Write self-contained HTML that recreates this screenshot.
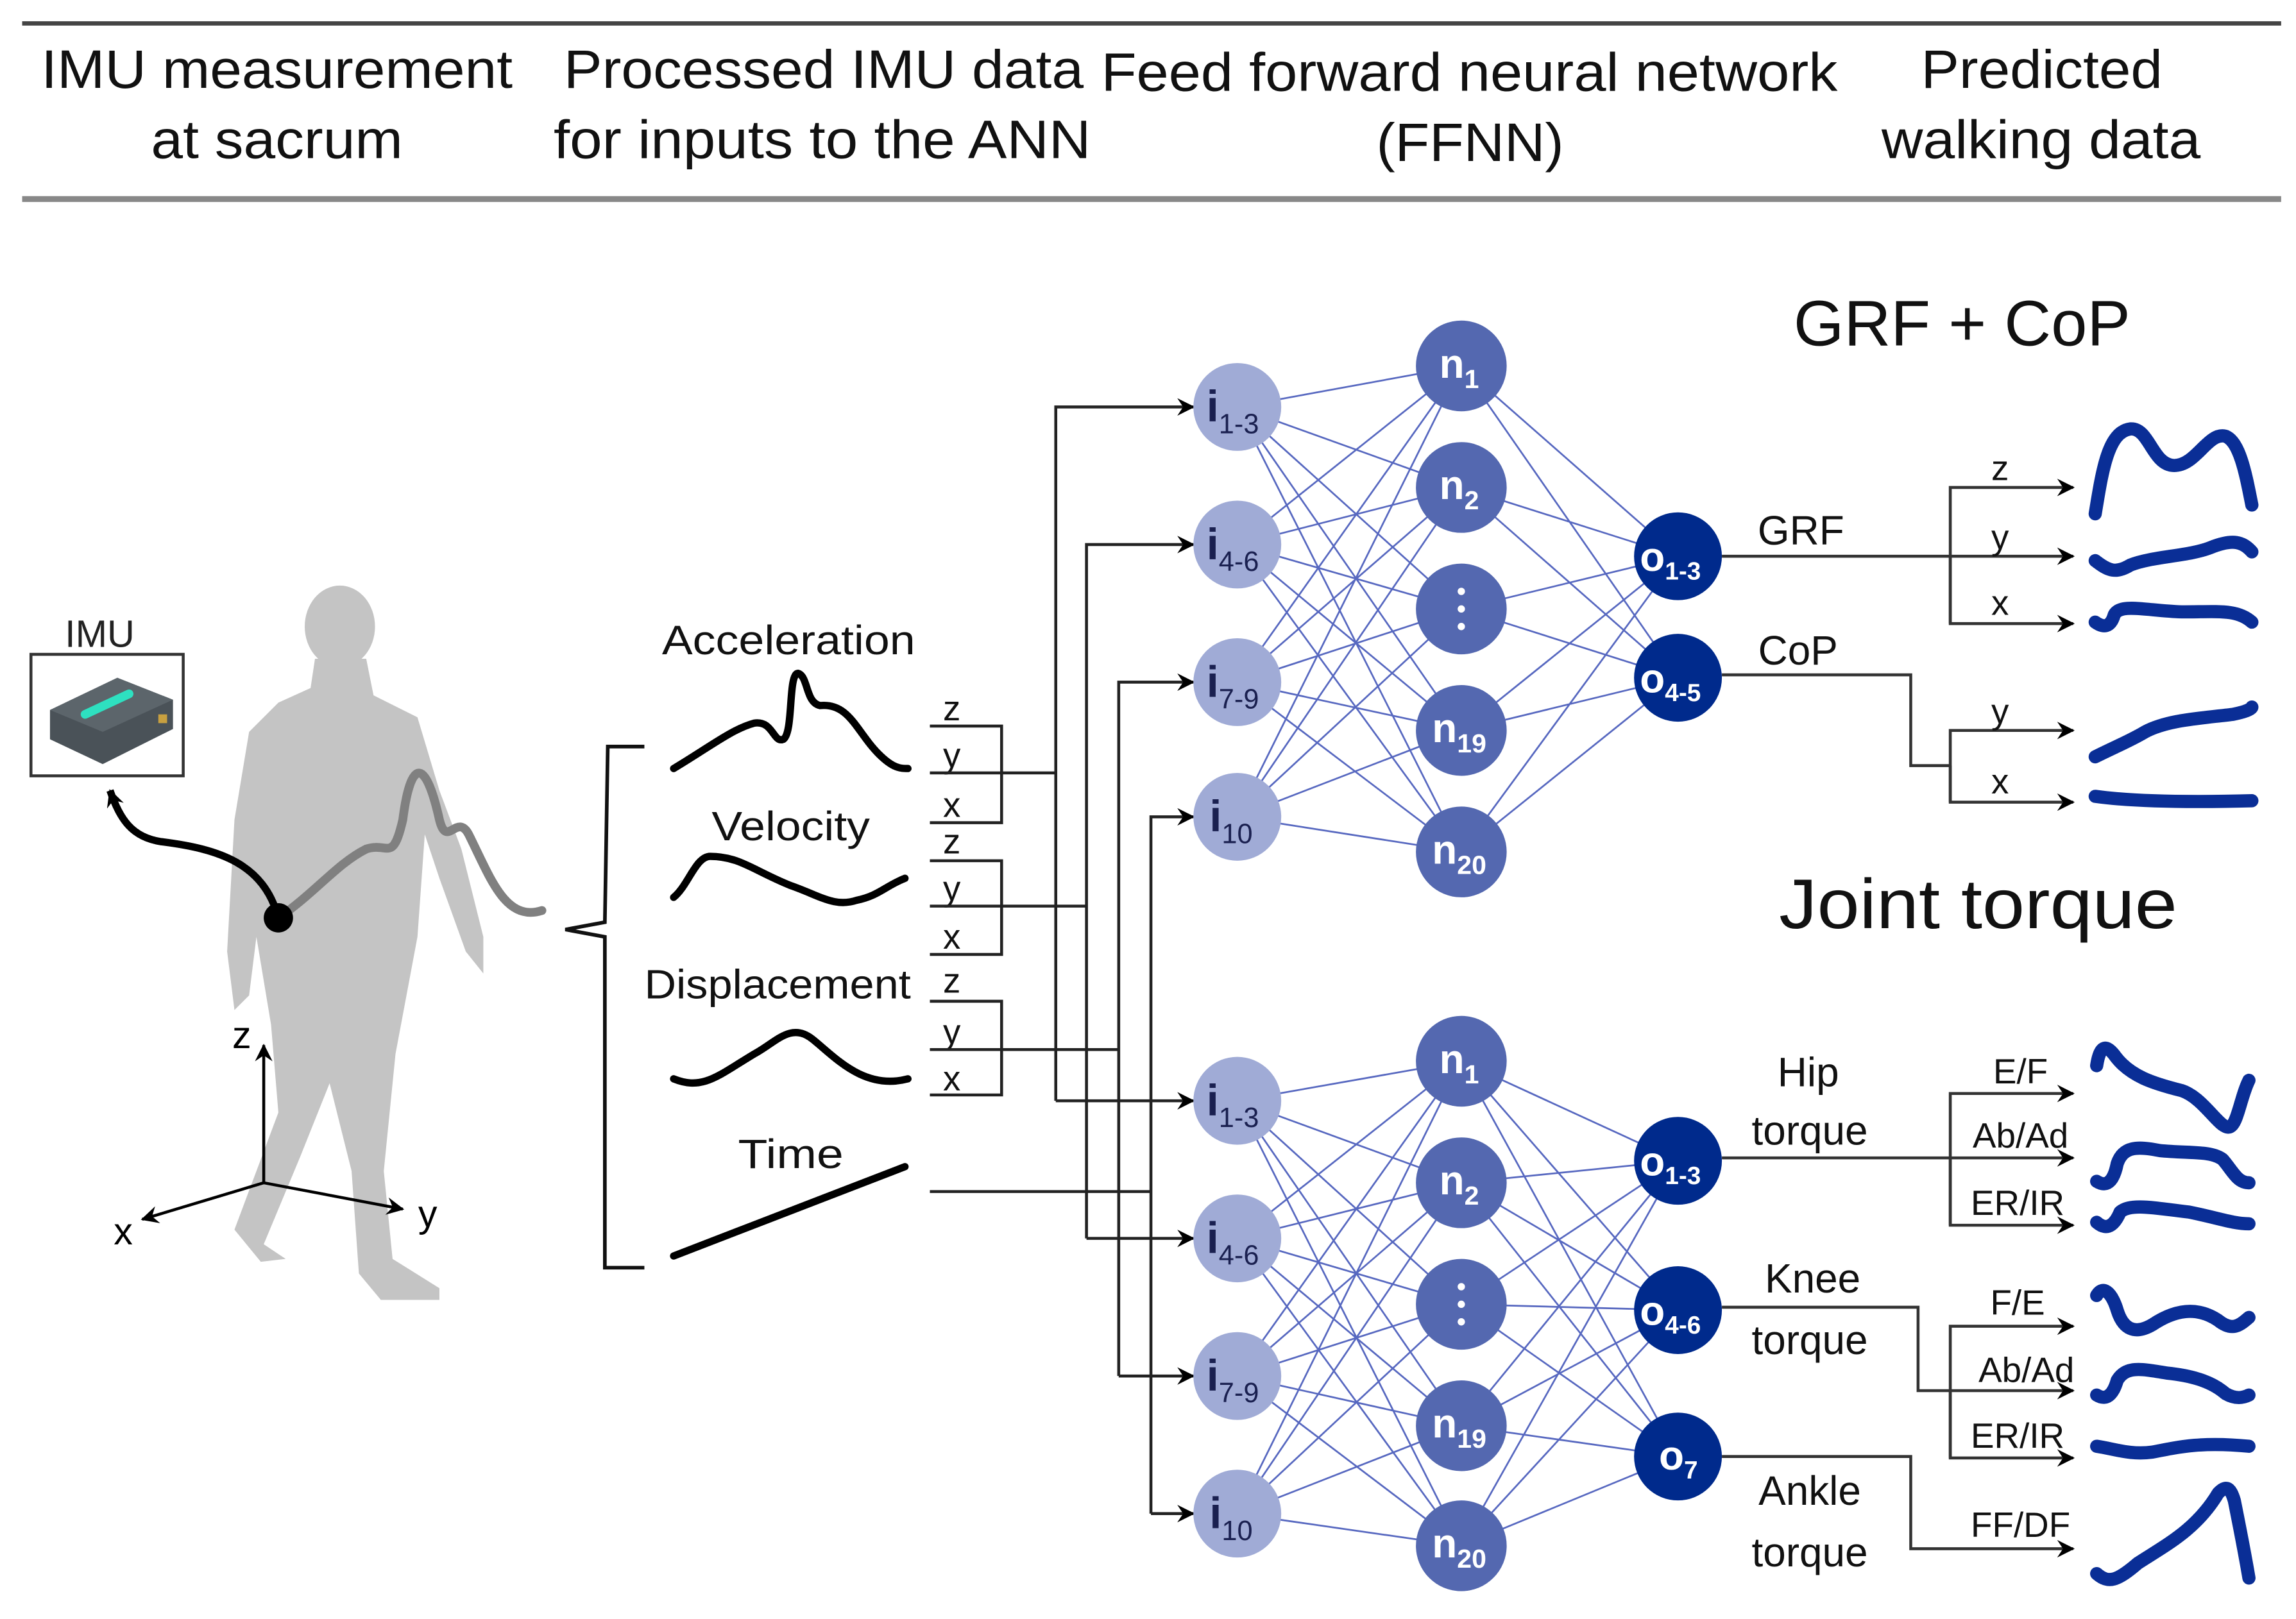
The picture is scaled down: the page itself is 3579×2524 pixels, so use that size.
<!DOCTYPE html>
<html><head><meta charset="utf-8"><style>
html,body{margin:0;padding:0;background:#fff}
svg{display:block}
text{font-family:"Liberation Sans",sans-serif}
</style></head><body>
<svg width="3579" height="2524" viewBox="0 0 1568 1106" xmlns="http://www.w3.org/2000/svg">
<defs>
<marker id="ah" viewBox="0 0 12 12" refX="11" refY="6" markerWidth="12" markerHeight="12" markerUnits="userSpaceOnUse" orient="auto">
<path d="M0,0 L12,6 L0,12 L4,6 Z" fill="#000"/></marker>
</defs>
<!-- header -->
<line x1="15" y1="16" x2="1558" y2="16" stroke="#444" stroke-width="3"/>
<line x1="15" y1="136" x2="1558" y2="136" stroke="#888" stroke-width="4"/>
<g font-size="37" fill="#111" lengthAdjust="spacingAndGlyphs">
<text x="28" y="60" textLength="322" lengthAdjust="spacingAndGlyphs">IMU measurement</text>
<text x="103" y="108" textLength="172" lengthAdjust="spacingAndGlyphs">at sacrum</text>
<text x="385" y="60" textLength="355" lengthAdjust="spacingAndGlyphs">Processed IMU data</text>
<text x="378" y="108" textLength="367" lengthAdjust="spacingAndGlyphs">for inputs to the ANN</text>
<text x="752" y="62" textLength="503" lengthAdjust="spacingAndGlyphs">Feed forward neural network</text>
<text x="940" y="110" textLength="128" lengthAdjust="spacingAndGlyphs">(FFNN)</text>
<text x="1312" y="60" textLength="165" lengthAdjust="spacingAndGlyphs">Predicted</text>
<text x="1285" y="108" textLength="218" lengthAdjust="spacingAndGlyphs">walking data</text>
</g>

<!-- person silhouette -->
<g fill="#c4c4c4">
<ellipse cx="232" cy="428" rx="24" ry="28"/>
<path d="M215,450 L250,450 L255,475 L285,490 L300,540 L315,580 L330,640 L330,665 L318,650 L300,600 L290,570 L285,640 L270,720 L262,800 L268,860 L300,880 L300,888 L260,888 L245,870 L240,800 L225,740 L205,790 L180,850 L195,860 L178,862 L160,840 L190,760 L185,700 L175,640 L170,680 L160,690 L155,650 L160,560 L170,500 L190,480 L212,470 Z"/>
</g>
<path d="M190,627 C215,610 230,590 250,580 C265,575 268,590 275,560 C280,520 290,515 300,560 C305,580 312,555 320,570 C335,600 345,630 370,622" fill="none" stroke="#808080" stroke-width="6" stroke-linecap="round"/>
<path d="M190,627 C180,590 150,580 110,575 C90,572 82,560 75,540" fill="none" stroke="#000" stroke-width="5" marker-end="url(#ah)"/>
<circle cx="190" cy="627" r="10" fill="#000"/>
<!-- IMU box -->
<text x="68" y="442" font-size="26" text-anchor="middle" fill="#222">IMU</text>
<rect x="21" y="447" width="104" height="83" fill="#fff" stroke="#333" stroke-width="2"/>
<path d="M34,485 L80,463 L118,478 L118,498 L70,522 L34,505 Z" fill="#4a5258"/>
<path d="M34,485 L80,463 L118,478 L70,500 Z" fill="#5c656b"/>
<path d="M58,488 L88,474" stroke="#2ee0c0" stroke-width="6" stroke-linecap="round"/>
<rect x="108" y="488" width="6" height="6" fill="#c8a040"/>
<!-- axes -->
<line x1="180" y1="808" x2="180" y2="714" stroke="#000" stroke-width="2" marker-end="url(#ah)"/>
<line x1="180" y1="808" x2="97" y2="833" stroke="#000" stroke-width="2" marker-end="url(#ah)"/>
<line x1="180" y1="808" x2="275" y2="826" stroke="#000" stroke-width="2" marker-end="url(#ah)"/>
<text x="165" y="716" font-size="26" text-anchor="middle">z</text>
<text x="84" y="850" font-size="26" text-anchor="middle">x</text>
<text x="292" y="838" font-size="26" text-anchor="middle">y</text>

<!-- curly bracket -->
<path d="M440,510 L415,510 L413,630 L386,635 L413,640 L413,866 L440,866" fill="none" stroke="#111" stroke-width="2.5"/>
<!-- signals -->
<g font-size="28" fill="#111">
<text x="452" y="447" textLength="173" lengthAdjust="spacingAndGlyphs">Acceleration</text>
<text x="486" y="574" textLength="108" lengthAdjust="spacingAndGlyphs">Velocity</text>
<text x="440" y="682" textLength="182" lengthAdjust="spacingAndGlyphs">Displacement</text>
<text x="504" y="798" textLength="72" lengthAdjust="spacingAndGlyphs">Time</text>
</g>
<g fill="none" stroke="#000" stroke-width="5" stroke-linecap="round">
<path d="M460,525 C485,510 500,498 515,494 C528,492 528,508 535,505 C542,500 538,460 545,460 C552,462 550,480 560,482 C580,480 585,500 600,515 C610,525 615,525 620,525"/>
<path d="M460,613 C470,605 475,585 485,585 C505,585 515,595 540,605 C560,612 570,620 585,615 C600,612 605,605 618,600"/>
<path d="M460,737 C480,745 490,735 515,720 C530,712 540,698 555,710 C570,722 590,745 620,737"/>
<path d="M460,858 L618,797"/>
</g>
<!-- xyz groups -->
<g font-size="24" text-anchor="middle" fill="#111">
<text x="650" y="492">z</text><text x="650" y="524">y</text><text x="650" y="558">x</text>
<text x="650" y="583">z</text><text x="650" y="615">y</text><text x="650" y="648">x</text>
<text x="650" y="678">z</text><text x="650" y="713">y</text><text x="650" y="745">x</text>
</g>
<g fill="none" stroke="#222" stroke-width="2">
<path d="M635,496 L684,496 L684,562 L635,562 M635,528 L721,528"/>
<path d="M635,588 L684,588 L684,652 L635,652 M635,619 L742,619"/>
<path d="M635,684 L684,684 L684,748 L635,748 M635,717 L764,717"/>
<path d="M635,814 L786,814"/>
<path d="M721,752 L721,278 L815,278" marker-end="url(#ah)"/>
<path d="M721,752 L815,752" marker-end="url(#ah)"/>
<path d="M742,846 L742,372 L815,372" marker-end="url(#ah)"/>
<path d="M742,846 L815,846" marker-end="url(#ah)"/>
<path d="M764,940 L764,466 L815,466" marker-end="url(#ah)"/>
<path d="M764,940 L815,940" marker-end="url(#ah)"/>
<path d="M786,1034 L786,558 L815,558" marker-end="url(#ah)"/>
<path d="M786,1034 L815,1034" marker-end="url(#ah)"/>
</g>

<!-- network connections -->
<g stroke="#3a4db5" stroke-width="1.2" fill="none" opacity="0.85">
<path d="M845,278L998,250M845,278L998,333M845,278L998,416M845,278L998,499M845,278L998,582
M845,372L998,250M845,372L998,333M845,372L998,416M845,372L998,499M845,372L998,582
M845,466L998,250M845,466L998,333M845,466L998,416M845,466L998,499M845,466L998,582
M845,558L998,250M845,558L998,333M845,558L998,416M845,558L998,499M845,558L998,582
M998,250L1146,380M998,333L1146,380M998,416L1146,380M998,499L1146,380M998,582L1146,380
M998,250L1146,463M998,333L1146,463M998,416L1146,463M998,499L1146,463M998,582L1146,463
M845,752L998,725M845,752L998,808M845,752L998,891M845,752L998,974M845,752L998,1056
M845,846L998,725M845,846L998,808M845,846L998,891M845,846L998,974M845,846L998,1056
M845,940L998,725M845,940L998,808M845,940L998,891M845,940L998,974M845,940L998,1056
M845,1034L998,725M845,1034L998,808M845,1034L998,891M845,1034L998,974M845,1034L998,1056
M998,725L1146,793M998,808L1146,793M998,891L1146,793M998,974L1146,793M998,1056L1146,793
M998,725L1146,895M998,808L1146,895M998,891L1146,895M998,974L1146,895M998,1056L1146,895
M998,725L1146,995M998,808L1146,995M998,891L1146,995M998,974L1146,995M998,1056L1146,995"/>
</g>
<!-- nodes -->
<g fill="#a0abd6">
<circle cx="845" cy="278" r="30"/><circle cx="845" cy="372" r="30"/><circle cx="845" cy="466" r="30"/><circle cx="845" cy="558" r="30"/>
<circle cx="845" cy="752" r="30"/><circle cx="845" cy="846" r="30"/><circle cx="845" cy="940" r="30"/><circle cx="845" cy="1034" r="30"/>
</g>
<g fill="#5468b0">
<circle cx="998" cy="250" r="31"/><circle cx="998" cy="333" r="31"/><circle cx="998" cy="416" r="31"/><circle cx="998" cy="499" r="31"/><circle cx="998" cy="582" r="31"/>
<circle cx="998" cy="725" r="31"/><circle cx="998" cy="808" r="31"/><circle cx="998" cy="891" r="31"/><circle cx="998" cy="974" r="31"/><circle cx="998" cy="1056" r="31"/>
</g>
<g fill="#002a8c">
<circle cx="1146" cy="380" r="30"/><circle cx="1146" cy="463" r="30"/>
<circle cx="1146" cy="793" r="30"/><circle cx="1146" cy="895" r="30"/><circle cx="1146" cy="995" r="30"/>
</g>
<!-- node labels -->
<g font-size="30" font-weight="bold" fill="#1a2050">
<text x="824" y="288">i<tspan font-size="19" font-weight="normal" dy="8">1-3</tspan></text>
<text x="824" y="382">i<tspan font-size="19" font-weight="normal" dy="8">4-6</tspan></text>
<text x="824" y="476">i<tspan font-size="19" font-weight="normal" dy="8">7-9</tspan></text>
<text x="826" y="568">i<tspan font-size="19" font-weight="normal" dy="8">10</tspan></text>
<text x="824" y="762">i<tspan font-size="19" font-weight="normal" dy="8">1-3</tspan></text>
<text x="824" y="856">i<tspan font-size="19" font-weight="normal" dy="8">4-6</tspan></text>
<text x="824" y="950">i<tspan font-size="19" font-weight="normal" dy="8">7-9</tspan></text>
<text x="826" y="1044">i<tspan font-size="19" font-weight="normal" dy="8">10</tspan></text>
</g>
<g font-size="28" font-weight="bold" fill="#fff">
<text x="983" y="258">n<tspan font-size="18" dy="7">1</tspan></text>
<text x="983" y="341">n<tspan font-size="18" dy="7">2</tspan></text>
<text x="978" y="507">n<tspan font-size="18" dy="7">19</tspan></text>
<text x="978" y="590">n<tspan font-size="18" dy="7">20</tspan></text>
<text x="983" y="733">n<tspan font-size="18" dy="7">1</tspan></text>
<text x="983" y="816">n<tspan font-size="18" dy="7">2</tspan></text>
<text x="978" y="982">n<tspan font-size="18" dy="7">19</tspan></text>
<text x="978" y="1064">n<tspan font-size="18" dy="7">20</tspan></text>
<text x="1120" y="390">o<tspan font-size="17" dy="6">1-3</tspan></text>
<text x="1120" y="473">o<tspan font-size="17" dy="6">4-5</tspan></text>
<text x="1120" y="803">o<tspan font-size="17" dy="6">1-3</tspan></text>
<text x="1120" y="905">o<tspan font-size="17" dy="6">4-6</tspan></text>
<text x="1133" y="1004">o<tspan font-size="17" dy="6">7</tspan></text>
</g>
<g fill="#fff"><circle cx="998" cy="404" r="2.5"/><circle cx="998" cy="416" r="2.5"/><circle cx="998" cy="428" r="2.5"/>
<circle cx="998" cy="879" r="2.5"/><circle cx="998" cy="891" r="2.5"/><circle cx="998" cy="903" r="2.5"/></g>

<!-- output routing -->
<g fill="none" stroke="#333" stroke-width="2">
<path d="M1176,380 L1416,380" marker-end="url(#ah)"/>
<path d="M1332,426 L1332,333 L1416,333" marker-end="url(#ah)"/>
<path d="M1332,380 L1332,426 L1416,426" marker-end="url(#ah)"/>
<path d="M1176,461 L1305,461 L1305,523 L1332,523"/>
<path d="M1332,548 L1332,499 L1416,499" marker-end="url(#ah)"/>
<path d="M1332,523 L1332,548 L1416,548" marker-end="url(#ah)"/>
<path d="M1176,791 L1416,791" marker-end="url(#ah)"/>
<path d="M1332,837 L1332,747 L1416,747" marker-end="url(#ah)"/>
<path d="M1332,791 L1332,837 L1416,837" marker-end="url(#ah)"/>
<path d="M1176,893 L1310,893 L1310,950 L1416,950" marker-end="url(#ah)"/>
<path d="M1332,996 L1332,906 L1416,906" marker-end="url(#ah)"/>
<path d="M1332,950 L1332,996 L1416,996" marker-end="url(#ah)"/>
<path d="M1176,995 L1305,995 L1305,1058 L1416,1058" marker-end="url(#ah)"/>
</g>
<g font-size="28" fill="#111" text-anchor="middle">
<text x="1230" y="372">GRF</text>
<text x="1228" y="454">CoP</text>
<text x="1235" y="742">Hip</text>
<text x="1236" y="782">torque</text>
<text x="1238" y="883">Knee</text>
<text x="1236" y="925">torque</text>
<text x="1236" y="1028">Ankle</text>
<text x="1236" y="1070">torque</text>
</g>
<g font-size="24" fill="#111" text-anchor="middle">
<text x="1366" y="328">z</text><text x="1366" y="375">y</text><text x="1366" y="420">x</text>
<text x="1366" y="494">y</text><text x="1366" y="542">x</text>
<text x="1380" y="740">E/F</text><text x="1380" y="784">Ab/Ad</text><text x="1378" y="830">ER/IR</text>
<text x="1378" y="898">F/E</text><text x="1384" y="944">Ab/Ad</text><text x="1378" y="989">ER/IR</text>
<text x="1380" y="1050">FF/DF</text>
</g>
<text x="1225" y="236" font-size="44" fill="#111" textLength="230" lengthAdjust="spacingAndGlyphs">GRF + CoP</text>
<text x="1215" y="634" font-size="48" fill="#111" textLength="272" lengthAdjust="spacingAndGlyphs">Joint torque</text>

<!-- output curves -->
<g fill="none" stroke="#0a2e96" stroke-width="9" stroke-linecap="round" stroke-linejoin="round">
<path d="M1431,351 C1436,320 1440,295 1455,293 C1468,292 1470,318 1485,318 C1500,318 1508,295 1520,298 C1530,302 1534,325 1538,345"/>
<path d="M1431,383 C1440,390 1445,392 1455,386 C1470,380 1495,380 1510,374 C1525,368 1532,370 1538,377"/>
<path d="M1431,425 C1438,430 1442,427 1444,420 C1448,412 1465,417 1490,418 C1515,418 1528,416 1538,425"/>
<path d="M1431,517 C1445,510 1455,506 1465,500 C1480,492 1500,491 1525,488 C1535,486 1538,484 1538,483"/>
<path d="M1431,544 C1460,548 1500,548 1538,547"/>
<path d="M1432,728 C1434,715 1438,712 1445,722 C1455,735 1470,740 1490,745 C1505,750 1515,770 1522,770 C1528,770 1530,750 1536,738"/>
<path d="M1432,807 C1440,812 1444,805 1446,795 C1450,783 1460,783 1475,786 C1495,788 1510,786 1518,792 C1525,800 1528,808 1536,808"/>
<path d="M1432,835 C1440,842 1445,835 1448,828 C1455,822 1470,825 1495,828 C1515,832 1525,836 1536,836"/>
<path d="M1432,885 C1436,878 1442,882 1446,895 C1450,908 1458,912 1470,905 C1485,895 1500,892 1515,902 C1525,910 1530,905 1536,900"/>
<path d="M1432,953 C1440,958 1444,950 1446,943 C1452,933 1462,935 1480,938 C1500,940 1512,945 1520,952 C1527,956 1532,955 1536,953"/>
<path d="M1432,988 C1445,990 1455,994 1470,992 C1490,988 1505,985 1536,988"/>
<path d="M1432,1075 C1440,1082 1446,1080 1460,1068 C1480,1055 1500,1045 1515,1020 C1520,1015 1523,1015 1526,1025 C1530,1045 1533,1060 1536,1078"/>
</g>
</svg>
</body></html>
